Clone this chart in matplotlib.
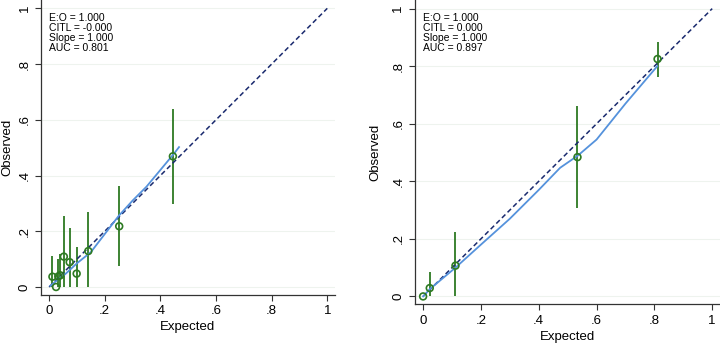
import numpy as np
import matplotlib.pyplot as plt

plt.rcParams['font.family'] = ['Liberation Sans', 'DejaVu Sans']

# left panel: grouped observed vs expected with 95% CI
left_exp = [0.012, 0.025, 0.033, 0.040, 0.053, 0.074, 0.099, 0.141, 0.252, 0.445]
left_obs = [0.037, 0.000, 0.038, 0.042, 0.109, 0.089, 0.048, 0.129, 0.218, 0.469]
left_lo = [0.0, 0.0, 0.0, 0.0, 0.0, 0.0, 0.0, 0.0, 0.074, 0.297]
left_hi = [0.11, 0.0, 0.10, 0.12, 0.254, 0.21, 0.144, 0.268, 0.361, 0.640]
left_smooth_x = [0.004, 0.03, 0.06, 0.10, 0.15, 0.20, 0.25, 0.30, 0.35, 0.40, 0.45, 0.467]
left_smooth_y = [0.004, 0.025, 0.048, 0.085, 0.125, 0.19, 0.255, 0.31, 0.36, 0.42, 0.48, 0.502]
left_stats = ["E:O = 1.000", "CITL = -0.000", "Slope = 1.000", "AUC = 0.801"]

# right panel
right_exp = [0.0, 0.023, 0.112, 0.534, 0.811]
right_obs = [0.0, 0.029, 0.107, 0.484, 0.825]
right_lo = [0.0, 0.0, 0.0, 0.308, 0.763]
right_hi = [0.0, 0.086, 0.225, 0.661, 0.885]
right_smooth_x = [0.0, 0.025, 0.112, 0.20, 0.30, 0.40, 0.474, 0.536, 0.60, 0.70, 0.81]
right_smooth_y = [0.0, 0.027, 0.10, 0.18, 0.27, 0.37, 0.447, 0.49, 0.545, 0.67, 0.80]
right_stats = ["E:O = 1.000", "CITL = 0.000", "Slope = 1.000", "AUC = 0.897"]

ticks = [0, 0.2, 0.4, 0.6, 0.8, 1.0]
tick_labels = ["0", ".2", ".4", ".6", ".8", "1"]

green = '#2d7a22'
blue = '#5592dc'
navy = '#1a2a6e'

fig = plt.figure(figsize=(7.2, 3.46), dpi=100)
ax1 = fig.add_axes([0.057, 0.148, 0.408, 0.852])
ax2 = fig.add_axes([0.576, 0.120, 0.424, 0.880])


def draw(ax, ex, ob, lo, hi, sx, sy, stats, ylab_pad):
    for y in ticks:
        ax.axhline(y, color='#eef3ee', lw=0.8, zorder=0)
    ax.vlines(ex, lo, hi, color=green, lw=1.3, zorder=2)
    ax.plot([0, 1], [0, 1], color=navy, lw=1.1, ls=(0, (3.2, 2)), zorder=3)
    ax.plot(sx, sy, color=blue, lw=1.3, zorder=4)
    ax.scatter(ex, ob, s=24, facecolors='none', edgecolors=green, lw=1.2, zorder=5)
    ax.set_xlim(-0.029, 1.027)
    ax.set_ylim(-0.028, 1.03)
    ax.set_xticks(ticks)
    ax.set_xticklabels(tick_labels, fontsize=9.5)
    ax.set_yticks(ticks)
    ax.set_yticklabels(tick_labels, fontsize=9.5, rotation=90, va='center')
    ax.tick_params(direction='out', length=4, width=0.8, color='#333333')
    ax.spines['top'].set_visible(False)
    ax.spines['right'].set_visible(False)
    for s in ['left', 'bottom']:
        ax.spines[s].set_color('#333333')
        ax.spines[s].set_linewidth(0.9)
    ax.set_xlabel('Expected', fontsize=9.5, labelpad=3)
    ax.set_ylabel('Observed', fontsize=9.5, labelpad=ylab_pad)
    ax.text(0.0, 0.985, "\n".join(stats), fontsize=7.5, va='top', ha='left',
            linespacing=1.0, transform=ax.transData)


draw(ax1, left_exp, left_obs, left_lo, left_hi, left_smooth_x, left_smooth_y, left_stats, 4)
draw(ax2, right_exp, right_obs, right_lo, right_hi, right_smooth_x, right_smooth_y, right_stats, 8)

fig.savefig('out.png', dpi=100)
